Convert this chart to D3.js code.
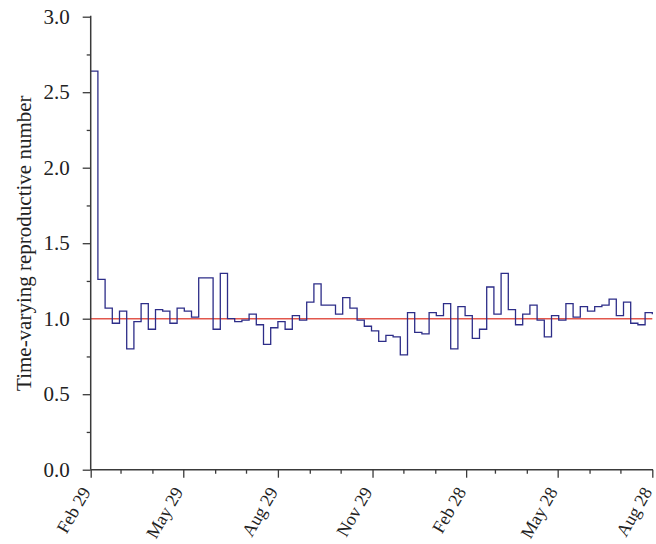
<!DOCTYPE html>
<html>
<head>
<meta charset="utf-8">
<script src="https://cdn.jsdelivr.net/npm/d3@7"></script>
<style>
  html, body { margin: 0; padding: 0; background: #fff; }
  svg { display: block; }
  text { font-family: "Liberation Serif", "Times New Roman", serif; fill: #222; }
</style>
</head>
<body>
<svg id="chart" width="656" height="544"></svg>
<script>
// Weekly time-varying reproductive number, one value per week from 29 Feb 2020
const startDate = "2020-02-29";
const endDate = "2021-08-28";
const rtValues = [
  2.64, 1.26, 1.07, 0.97, 1.05, 0.80, 0.98, 1.10, 0.93, 1.06,
  1.05, 0.97, 1.07, 1.05, 1.01, 1.27, 1.27, 0.93, 1.30, 1.00,
  0.98, 0.99, 1.03, 0.96, 0.83, 0.94, 0.98, 0.93, 1.02, 0.99,
  1.11, 1.23, 1.09, 1.09, 1.03, 1.14, 1.07, 0.99, 0.95, 0.92,
  0.85, 0.89, 0.88, 0.76, 1.04, 0.91, 0.90, 1.04, 1.02, 1.10,
  0.80, 1.08, 1.02, 0.87, 0.93, 1.21, 1.03, 1.30, 1.06, 0.96,
  1.03, 1.09, 0.99, 0.88, 1.02, 0.99, 1.10, 1.01, 1.08, 1.05,
  1.08, 1.09, 1.13, 1.02, 1.11, 0.97, 0.96, 1.04
];
const finalValue = 1.03;
const threshold = 1.0;

// Axis ticks
const xMajorTicks = ["2020-02-29", "2020-05-29", "2020-08-29", "2020-11-29", "2021-02-28", "2021-05-28", "2021-08-28"];
const xMinorTicks = ["2020-03-29", "2020-04-29", "2020-06-29", "2020-07-29", "2020-09-29", "2020-10-29",
                     "2020-12-29", "2021-01-29", "2021-03-28", "2021-04-28", "2021-06-28", "2021-07-28"];
const yMajorTicks = [0, 0.5, 1.0, 1.5, 2.0, 2.5, 3.0];
const yMinorTicks = [0.25, 0.75, 1.25, 1.75, 2.25, 2.75];
const yLabel = "Time-varying reproductive number";

const parse = d3.utcParse("%Y-%m-%d");
const fmtX = d3.utcFormat("%b %d");

const svg = d3.select("#chart");
const plotLeft = 90.7, plotRight = 652.3, plotTop = 16.7, plotBottom = 469.7;

const x = d3.scaleUtc().domain([parse(startDate), parse(endDate)]).range([plotLeft, plotRight]);
const y = d3.scaleLinear().domain([0, 3]).range([plotBottom, plotTop]);

// Step series: each weekly value holds until the next week begins
const points = rtValues.map((v, i) => ({ date: d3.utcDay.offset(parse(startDate), 7 * i), value: v }));
points.push({ date: parse(endDate), value: finalValue });

const axisColor = "#3a3a3a";

// Reference line at R = 1
svg.append("line")
  .attr("x1", x(parse(startDate))).attr("x2", x(parse(endDate)))
  .attr("y1", y(threshold)).attr("y2", y(threshold))
  .attr("stroke", "#e2574c").attr("stroke-width", 1.5);

const line = d3.line()
  .x(d => x(d.date))
  .y(d => y(d.value))
  .curve(d3.curveStepAfter);

svg.append("path")
  .datum(points)
  .attr("d", line)
  .attr("fill", "none")
  .attr("stroke", "#2d2d88")
  .attr("stroke-width", 1.3)
  .attr("stroke-linejoin", "miter");

// Y axis
const yAxis = d3.axisLeft(y).tickValues(yMajorTicks).tickFormat(d3.format(".1f")).tickSize(8).tickPadding(13);
const gy = svg.append("g").attr("transform", `translate(${plotLeft},0)`).call(yAxis);
gy.select(".domain").attr("stroke", axisColor).attr("stroke-width", 1.5).attr("d", `M0,${plotBottom}V${plotTop - 1}`);
gy.selectAll(".tick line").attr("stroke", axisColor).attr("stroke-width", 1.3);
gy.selectAll(".tick text").attr("font-size", 21).attr("font-family", "Liberation Serif, serif").attr("fill", "#222");
const yMinor = d3.axisLeft(y).tickValues(yMinorTicks).tickFormat("").tickSize(4);
const gy2 = svg.append("g").attr("transform", `translate(${plotLeft},0)`).call(yMinor);
gy2.select(".domain").remove();
gy2.selectAll(".tick line").attr("stroke", axisColor).attr("stroke-width", 1.3);

// X axis
const xAxis = d3.axisBottom(x).tickValues(xMajorTicks.map(parse)).tickFormat(fmtX).tickSize(8);
const gx = svg.append("g").attr("transform", `translate(0,${plotBottom})`).call(xAxis);
gx.select(".domain").attr("stroke", axisColor).attr("stroke-width", 1.5).attr("d", `M${plotLeft},0H${plotRight + 0.7}`);
gx.selectAll(".tick line").attr("stroke", axisColor).attr("stroke-width", 1.3);
gx.selectAll(".tick text")
  .attr("font-size", 18).attr("font-family", "Liberation Serif, serif").attr("fill", "#222")
  .attr("text-anchor", "end")
  .attr("dy", null)
  .attr("y", 0)
  .attr("transform", "translate(0,22) rotate(-60)");
const xMinor = d3.axisBottom(x).tickValues(xMinorTicks.map(parse)).tickFormat("").tickSize(4);
const gx2 = svg.append("g").attr("transform", `translate(0,${plotBottom})`).call(xMinor);
gx2.select(".domain").remove();
gx2.selectAll(".tick line").attr("stroke", axisColor).attr("stroke-width", 1.3);

// Y axis title
svg.append("text")
  .attr("transform", `translate(31,${(plotTop + plotBottom) / 2}) rotate(-90)`)
  .attr("text-anchor", "middle")
  .attr("font-size", 21)
  .text(yLabel);
</script>
</body>
</html>
